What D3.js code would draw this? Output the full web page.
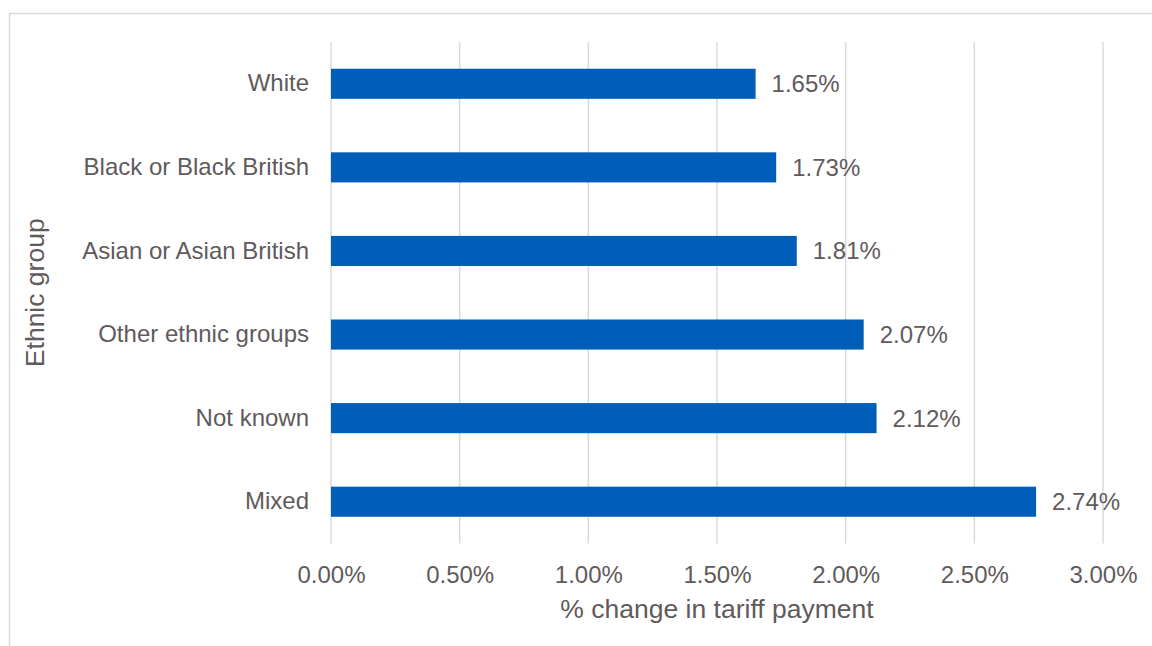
<!DOCTYPE html>
<html>
<head>
<meta charset="utf-8">
<script src="https://cdn.jsdelivr.net/npm/d3@7"></script>
<style>
  html, body { margin: 0; padding: 0; background: #fff; }
  svg { display: block; font-family: "Liberation Sans", Arial, sans-serif; }
</style>
</head>
<body>
<svg id="chart" width="1152" height="646"></svg>
<script>
const categories = ["White", "Black or Black British", "Asian or Asian British", "Other ethnic groups", "Not known", "Mixed"];
const values = [1.65, 1.73, 1.81, 2.07, 2.12, 2.74];
const tickValues = [0, 0.5, 1.0, 1.5, 2.0, 2.5, 3.0];
const xTitle = "% change in tariff payment";
const yTitle = "Ethnic group";

const textColor = "#605a5c";
const gridColor = "#dcd8d9";
const barColor = "#005EB8";
const labelSize = 24;
const titleSize = 26.5;

const svg = d3.select("#chart");

// outer frame (extends off right and bottom edges)
svg.append("path")
  .attr("d", "M9.5,646 L9.5,13.5 L1152,13.5")
  .attr("fill", "none")
  .attr("stroke", "#d9d9d9")
  .attr("stroke-width", 1.5);

const margin = { left: 331, right: 1103, top: 42, bottom: 543.5 };

const x = d3.scaleLinear().domain([0, 3]).range([margin.left, margin.right]);
const y = d3.scaleBand().domain(categories).range([margin.top, margin.bottom]).paddingInner(0.64).paddingOuter(0.32);

// gridlines
svg.append("g").selectAll("line").data(tickValues).join("line")
  .attr("x1", d => x(d)).attr("x2", d => x(d))
  .attr("y1", margin.top).attr("y2", margin.bottom)
  .attr("stroke", gridColor).attr("stroke-width", 1.5);

// bars
svg.append("g").selectAll("rect").data(categories).join("rect")
  .attr("x", x(0))
  .attr("y", d => y(d))
  .attr("width", (d, i) => x(values[i]) - x(0))
  .attr("height", y.bandwidth())
  .attr("fill", barColor);

// data labels
svg.append("g").selectAll("text").data(categories).join("text")
  .attr("x", (d, i) => x(values[i]) + 16)
  .attr("y", d => y(d) + y.bandwidth() / 2)
  .attr("dy", "0.35em")
  .attr("fill", textColor)
  .attr("font-size", labelSize)
  .text((d, i) => values[i].toFixed(2) + "%");

// y axis (category labels)
const yAxis = d3.axisLeft(y).tickSize(0).tickPadding(22);
const gy = svg.append("g").attr("transform", `translate(${margin.left},0)`).call(yAxis);
gy.select(".domain").remove();
gy.selectAll("text").attr("fill", textColor).attr("font-size", labelSize).attr("font-family", "Liberation Sans, Arial, sans-serif");

// x axis
const xAxis = d3.axisBottom(x).tickValues(tickValues).tickSize(0).tickPadding(22.5)
  .tickFormat(d => d.toFixed(2) + "%");
const gx = svg.append("g").attr("transform", `translate(0,${margin.bottom})`).call(xAxis);
gx.select(".domain").remove();
gx.selectAll("text").attr("fill", textColor).attr("font-size", labelSize).attr("font-family", "Liberation Sans, Arial, sans-serif");

// axis titles
svg.append("text")
  .attr("x", (margin.left + margin.right) / 2)
  .attr("y", 618)
  .attr("text-anchor", "middle")
  .attr("fill", textColor)
  .attr("font-size", titleSize)
  .text(xTitle);

svg.append("text")
  .attr("transform", `translate(44,${(margin.top + margin.bottom) / 2}) rotate(-90)`)
  .attr("text-anchor", "middle")
  .attr("fill", textColor)
  .attr("font-size", titleSize)
  .text(yTitle);
</script>
</body>
</html>
